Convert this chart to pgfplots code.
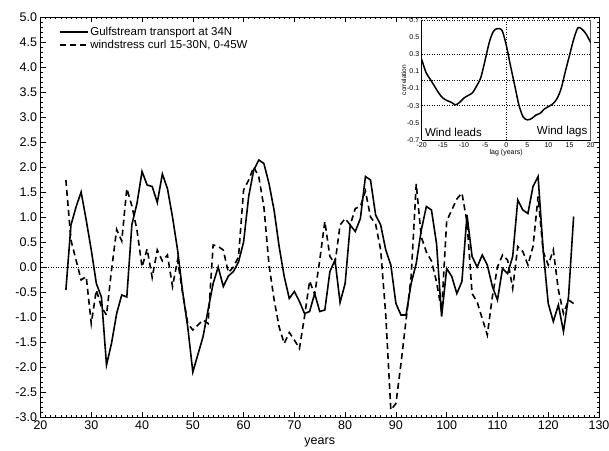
\documentclass[border=0pt]{standalone}
\usepackage{pgfplots}
\usepackage{pgfplotstable}
\pgfplotsset{compat=1.18}
\usepackage{fontspec}
\setmainfont{Liberation Sans}

\pgfplotstableread{
year gulf wind
25 -0.46 1.74
26 0.84 0.54
27 1.20 0.14
28 1.50 -0.26
29 0.94 -0.19
30 0.34 -1.13
31 -0.33 -0.46
32 -0.60 -0.80
33 -1.96 -0.96
34 -1.52 -0.05
35 -0.93 0.75
36 -0.56 0.52
37 -0.60 1.57
38 0.85 1.22
39 1.27 0.74
40 1.91 0.00
41 1.64 0.36
42 1.61 -0.21
43 1.29 0.34
44 1.86 0.12
45 1.57 0.24
46 1.00 -0.39
47 0.34 0.14
48 -0.50 -0.53
49 -1.20 -1.13
50 -2.10 -1.26
51 -1.75 -1.16
52 -1.40 -1.06
53 -0.86 -1.13
54 -0.33 0.44
55 0.00 0.41
56 -0.39 0.34
57 -0.18 -0.11
58 -0.09 0.00
59 0.10 0.20
60 0.50 1.54
61 1.41 1.74
62 1.94 2.00
63 2.14 1.80
64 2.07 1.20
65 1.67 0.05
66 1.14 -0.65
67 0.41 -1.20
68 -0.19 -1.53
69 -0.63 -1.31
70 -0.49 -1.46
71 -0.69 -1.63
72 -0.93 -0.99
73 -0.89 -0.28
74 -0.53 -0.55
75 -0.89 0.14
76 -0.86 0.91
77 -0.09 0.21
78 0.14 0.07
79 -0.71 0.84
80 -0.33 0.97
81 0.84 0.84
82 0.71 1.17
83 0.97 1.21
84 1.81 1.52
85 1.74 1.00
86 1.04 0.86
87 0.84 0.34
88 0.34 -0.96
89 0.04 -2.86
90 -0.73 -2.73
91 -0.96 -1.93
92 -0.96 -1.06
93 -0.33 -0.19
94 0.07 1.66
95 0.74 0.60
96 1.21 0.30
97 1.14 0.12
98 0.47 -0.30
99 -0.99 -0.88
100 -0.03 0.92
101 -0.19 1.14
102 -0.53 1.36
103 -0.29 1.48
104 1.04 0.90
105 0.21 -0.53
106 0.00 -0.70
107 0.24 -1.03
108 0.04 -1.36
109 -0.39 -0.59
110 -0.66 0.00
111 -0.03 0.24
112 -0.13 0.14
113 0.21 -0.43
114 1.34 0.41
115 1.14 0.31
116 1.07 0.04
117 1.61 0.41
118 1.81 1.41
119 0.34 0.31
120 -0.73 0.04
121 -1.09 0.34
122 -0.76 -0.46
123 -1.29 -0.93
124 -0.59 -0.66
125 1.01 -0.73
}\series

\pgfplotstableread{
lag r
-20 0.24
-19 0.09
-18 0.01
-17 -0.07
-16 -0.15
-15 -0.21
-14 -0.24
-13 -0.26
-12 -0.29
-11 -0.26
-10 -0.21
-9 -0.18
-8 -0.15
-7 -0.07
-6 0.03
-5 0.23
-4 0.44
-3 0.57
-2 0.60
-1 0.58
0 0.41
1 0.17
2 -0.06
3 -0.29
4 -0.43
5 -0.465
6 -0.45
7 -0.41
8 -0.39
9 -0.34
10 -0.31
11 -0.28
12 -0.22
13 -0.10
14 0.10
15 0.29
16 0.48
17 0.61
18 0.59
19 0.53
20 0.435
}\corr

\begin{document}
\begin{tikzpicture}
\path[use as bounding box] (-40.5pt,-33pt) rectangle (568.5pt,417pt);
\begin{axis}[
  at={(0pt,0pt)}, anchor=south west, scale only axis,
  width=558.5pt, height=400pt,
  xmin=20, xmax=130, ymin=-3, ymax=5,
  xtick={20,30,...,130}, minor x tick num=9,
  ytick={-3,-2.5,...,5}, minor y tick num=4,
  major tick length=5pt, minor tick length=2.5pt,
  tick style={black, line width=0.5pt},
  axis line style={line width=0.8pt},
  /pgf/number format/assume math mode=true,
  yticklabel style={/pgf/number format/fixed, /pgf/number format/fixed zerofill, /pgf/number format/precision=1},
  xticklabel style={/pgf/number format/fixed, /pgf/number format/precision=0},
  tick label style={font=\fontsize{12.5}{14}\selectfont},
  xlabel={years}, xlabel style={font=\fontsize{12.5}{14}\selectfont, yshift=-2pt},
  legend style={at={(rel axis cs:0.027,0.985)}, anchor=north west, draw=none, fill=none,
     font=\fontsize{11.5}{13}\selectfont, row sep=-1pt},
  legend cell align=left,
  legend image code/.code={\draw[#1] (0pt,0pt) -- (28pt,0pt);},
]
\addplot[black, dotted, line width=0.5pt, forget plot] coordinates {(20,0) (130,0)};
\addplot[black, line width=1.6pt] table[x=year, y=gulf] {\series};
\addlegendentry{Gulfstream transport at 34N}
\addplot[black, line width=1.6pt, dash pattern=on 6pt off 4pt] table[x=year, y=wind] {\series};
\addlegendentry{windstress curl 15-30N, 0-45W}
\end{axis}

\begin{axis}[
  at={(381.2pt,277pt)}, anchor=south west, scale only axis,
  width=169pt, height=120pt,
  xmin=-20, xmax=20, ymin=-0.7, ymax=0.7,
  xtick={-20,-15,...,20}, ytick={-0.7,-0.5,...,0.7},
  axis x line*=bottom, axis y line*=left,
  axis line style={line width=0.8pt, -},
  major tick length=0pt,
  axis background/.style={fill=white},
  /pgf/number format/assume math mode=true,
  yticklabel style={/pgf/number format/fixed, /pgf/number format/fixed zerofill, /pgf/number format/precision=1, xshift=1pt},
  xticklabel style={yshift=1pt},
  tick label style={font=\fontsize{7}{8}\selectfont},
  xlabel={lag (years)}, ylabel={correlation},
  xlabel style={font=\fontsize{7}{8}\selectfont, yshift=5pt},
  ylabel style={font=\fontsize{6.5}{8}\selectfont, yshift=-6pt},
]
\draw[line width=0.8pt] (axis cs:20,-0.7) -- (axis cs:20,0.7);
\draw[dotted, line width=0.5pt] (axis cs:-20,0.7) -- (axis cs:20,0.7);
\draw[dotted, line width=0.5pt] (axis cs:-20,0.3) -- (axis cs:20,0.3);
\draw[dotted, line width=0.5pt] (axis cs:-20,0) -- (axis cs:20,0);
\draw[dotted, line width=0.5pt] (axis cs:-20,-0.3) -- (axis cs:20,-0.3);
\draw[dotted, line width=0.5pt] (axis cs:0,-0.7) -- (axis cs:0,0.7);
\addplot[black, line width=1.5pt, smooth] table[x=lag, y=r] {\corr};
\node[anchor=south west, font=\fontsize{11.5}{13}\selectfont, inner sep=1pt] at (axis cs:-19.5,-0.68) {Wind leads};
\node[anchor=south east, font=\fontsize{11.5}{13}\selectfont, inner sep=1pt] at (axis cs:19.5,-0.68) {Wind lags};
\end{axis}
\end{tikzpicture}
\end{document}
